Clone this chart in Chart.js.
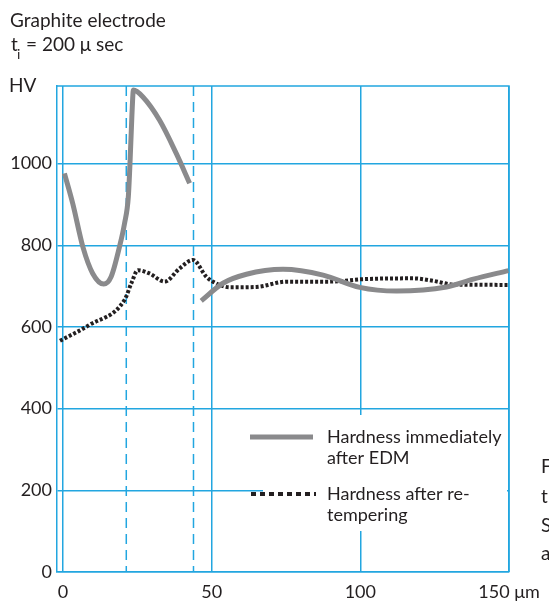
<!DOCTYPE html>
<html>
<head>
<meta charset="utf-8">
<script src="https://cdn.jsdelivr.net/npm/chart.js@4.4.1/dist/chart.umd.min.js"></script>
<style>
  body { margin: 0; background: #fff; }
  #c { display: block; }
</style>
</head>
<body>
<canvas id="c" width="549" height="601"></canvas>
<script>
// hardness immediately after EDM (two segments, broken at the second layer)
const edmDepth1 = [0.5, 3.3, 6.7, 10.0, 13.7, 16.2, 19.0, 20.7, 22.0, 22.6, 23.2, 23.7, 26.9, 32.5, 38.1, 42.6];
const edmHv1 = [976, 902, 796, 731, 705, 723, 796, 853, 920, 1010, 1120, 1180, 1163, 1106, 1025, 952];
const edmDepth2 = [46.5, 53.8, 61.7, 74.0, 87.5, 99.8, 112.2, 129.0, 138.0, 149.8];
const edmHv2 = [664, 707, 729, 741, 727, 697, 688, 698, 717, 738];

// hardness after re-tempering
const tempDepth = [-1, 8.9, 20.7, 23.0, 25.2, 29.1, 34.2, 39.2, 43.7, 48.2, 50.4, 56.1, 65, 75.2, 89.7, 100.9, 117.8, 124.5, 131.2, 149.8];
const tempHv = [566, 605, 666, 707, 739, 731, 711, 743, 764, 723, 711, 697, 698, 711, 711, 717, 719, 713, 704, 703];

const xTicks = [0, 50, 100, 150];
const yTicks = [0, 200, 400, 600, 800, 1000];
const layerBounds = [21.3, 43.9];

const BLUE = '#22a6e0';
const GREY = '#8a8a8c';
const INK = '#231f20';
const FONT = 'Lato, "Open Sans", sans-serif';

function toPoints(xs, ys) {
    return xs.map((x, i) => ({ x: x, y: ys[i] }));
}

const edmData = toPoints(edmDepth1, edmHv1)
    .concat([{ x: 44.5, y: null }])
    .concat(toPoints(edmDepth2, edmHv2));

const extras = {
    id: 'extras',
    beforeDatasetsDraw(chart) {
        const { ctx, chartArea: a, scales } = chart;
        ctx.save();
        // top and right frame
        ctx.strokeStyle = BLUE;
        ctx.lineWidth = 1.5;
        ctx.beginPath();
        ctx.moveTo(a.left, a.top);
        ctx.lineTo(a.right, a.top);
        ctx.lineTo(a.right, a.bottom);
        ctx.stroke();
        // dashed layer boundaries
        ctx.setLineDash([10, 6]);
        layerBounds.forEach(v => {
            const px = scales.x.getPixelForValue(v);
            ctx.beginPath();
            ctx.moveTo(px, a.top);
            ctx.lineTo(px, a.bottom);
            ctx.stroke();
        });
        ctx.restore();
    },
    afterDraw(chart) {
        const ctx = chart.ctx;
        ctx.save();
        // legend box
        ctx.fillStyle = '#fff';
        ctx.fillRect(263, 415, 244, 116);
        ctx.lineCap = 'butt';
        ctx.strokeStyle = GREY;
        ctx.lineWidth = 5;
        ctx.beginPath();
        ctx.moveTo(250, 437);
        ctx.lineTo(313, 437);
        ctx.stroke();
        ctx.strokeStyle = INK;
        ctx.lineWidth = 4;
        ctx.setLineDash([5, 4]);
        ctx.beginPath();
        ctx.moveTo(251, 494);
        ctx.lineTo(316, 494);
        ctx.stroke();
        ctx.setLineDash([]);

        ctx.fillStyle = INK;
        ctx.font = '18px ' + FONT;
        ctx.textBaseline = 'middle';
        ctx.fillText('Hardness immediately', 327, 437);
        ctx.fillText('after EDM', 327, 458);
        ctx.fillText('Hardness after re-', 327, 494);
        ctx.fillText('tempering', 327, 515);

        // headings
        ctx.textBaseline = 'alphabetic';
        ctx.font = '19px ' + FONT;
        ctx.fillText('Graphite electrode', 10, 27);
        ctx.fillText('t', 11, 51);
        ctx.font = '14px ' + FONT;
        ctx.fillText('i', 17, 59);
        ctx.font = '19px ' + FONT;
        ctx.fillText('= 200 μ sec', 26, 51);
        ctx.fillText('HV', 9, 92);

        // caption text cut off at the right edge
        ctx.font = '19px ' + FONT;
        ctx.textBaseline = 'middle';
        ctx.fillText('F', 541, 467);
        ctx.fillText('t', 541, 497);
        ctx.fillText('S', 541, 526);
        ctx.fillText('a', 541, 554);
        ctx.restore();
    }
};

const ctx = document.getElementById('c').getContext('2d');
new Chart(ctx, {
    type: 'line',
    data: {
        datasets: [
            {
                label: 'Hardness immediately after EDM',
                data: edmData,
                borderColor: GREY,
                borderWidth: 5,
                pointRadius: 0,
                cubicInterpolationMode: 'monotone',
                spanGaps: false,
                fill: false,
            },
            {
                label: 'Hardness after re-tempering',
                data: toPoints(tempDepth, tempHv),
                borderColor: INK,
                borderWidth: 4,
                borderDash: [3, 2],
                borderCapStyle: 'butt',
                pointRadius: 0,
                cubicInterpolationMode: 'monotone',
                fill: false,
            },
        ],
    },
    options: {
        responsive: false,
        animation: false,
        devicePixelRatio: 1,
        layout: { padding: { left: 0, top: 86, right: 40, bottom: 0 } },
        plugins: { legend: { display: false }, tooltip: { enabled: false } },
        scales: {
            x: {
                type: 'linear',
                min: -2,
                max: 150,
                afterBuildTicks: s => { s.ticks = xTicks.map(v => ({ value: v })); },
                afterFit: s => { s.height = 29; },
                grid: { color: BLUE, lineWidth: 1.5, drawTicks: false },
                border: { color: BLUE, width: 1.5 },
                ticks: {
                    padding: 9,
                    color: INK,
                    font: { family: FONT, size: 18 },
                    maxRotation: 0,
                    callback: v => v === 150 ? '150 μm' : String(v),
                },
            },
            y: {
                min: 0,
                max: 1190,
                afterBuildTicks: s => { s.ticks = yTicks.map(v => ({ value: v })); },
                afterFit: s => { s.width = 57; },
                grid: { color: BLUE, lineWidth: 1.5, drawTicks: false },
                border: { color: BLUE, width: 1.5 },
                ticks: {
                    padding: 5,
                    color: INK,
                    font: { family: FONT, size: 18 },
                    callback: v => String(v),
                },
            },
        },
    },
    plugins: [extras],
});
</script>
</body>
</html>
